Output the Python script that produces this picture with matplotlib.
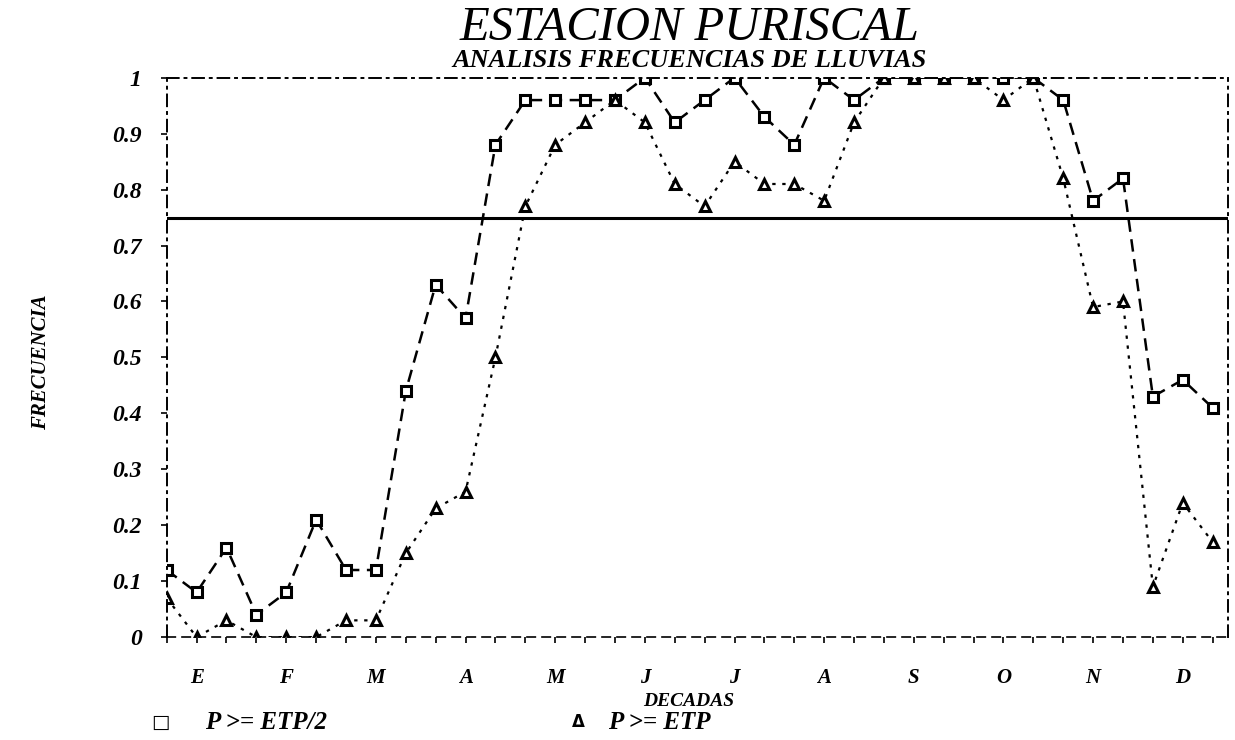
import matplotlib
matplotlib.use("Agg")
import matplotlib.pyplot as plt
import numpy as np

# frecuencia por decada (36 decadas, 3 por mes)
decadas = np.arange(36)
meses = ["E", "F", "M", "A", "M", "J", "J", "A", "S", "O", "N", "D"]

p_etp2 = [0.12, 0.08, 0.16, 0.04, 0.08, 0.21, 0.12, 0.12, 0.44, 0.63, 0.57, 0.88,
          0.96, 0.96, 0.96, 0.96, 1.00, 0.92, 0.96, 1.00, 0.93, 0.88, 1.00, 0.96,
          1.00, 1.00, 1.00, 1.00, 1.00, 1.00, 0.96, 0.78, 0.82, 0.43, 0.46, 0.41]
p_etp = [0.07, 0.00, 0.03, 0.00, 0.00, 0.00, 0.03, 0.03, 0.15, 0.23, 0.26, 0.50,
         0.77, 0.88, 0.92, 0.96, 0.92, 0.81, 0.77, 0.85, 0.81, 0.81, 0.78, 0.92,
         1.00, 1.00, 1.00, 1.00, 0.96, 1.00, 0.82, 0.59, 0.60, 0.09, 0.24, 0.17]
umbral = 0.75

serif = "Liberation Serif"
bi = dict(fontfamily=serif, fontweight="bold", fontstyle="italic")

fig = plt.figure(figsize=(12.35, 7.4), dpi=100)
ax = fig.add_axes([0.135, 0.139, 0.859, 0.756])

ax.plot(decadas, p_etp2, color="black", lw=1.8, ls=(0, (5, 3)),
        marker="s", ms=7.5, mfc="white", mec="black", mew=2.2)
ax.plot(decadas, p_etp, color="black", lw=1.6, ls=(0, (1.5, 3)),
        marker="^", ms=7.5, mfc="white", mec="black", mew=2.2)
ax.axhline(umbral, color="black", lw=2.2)

ax.set_xlim(0, 35.5)
ax.set_ylim(0, 1)

for side in ["top", "left", "right"]:
    ax.spines[side].set_linestyle((0, (6, 3, 1, 3)))
    ax.spines[side].set_linewidth(1.4)
ax.spines["bottom"].set_linestyle((0, (5, 4)))
ax.spines["bottom"].set_linewidth(1.2)

yt = np.round(np.arange(0, 1.01, 0.1), 1)
ax.set_yticks(yt)
ax.set_yticklabels(["0" if v == 0 else ("1" if v == 1 else f"{v:.1f}") for v in yt],
                   fontsize=17, **bi)
ax.set_xticks(decadas[1::3])
ax.set_xticklabels(meses, fontsize=15, **bi)
ax.set_xticks(decadas, minor=True)
ax.tick_params(axis="y", direction="out", length=4, width=1.2, pad=14)
ax.tick_params(axis="x", which="both", direction="out", length=4, width=1.2, pad=18)

fig.text(0.558, 1 - 702 / 740, "DECADAS", ha="center", va="center", fontsize=14, **bi)
fig.text(0.033, 0.51, "FRECUENCIA", ha="center", va="center", rotation=90,
         fontsize=15, **bi)

fig.text(0.558, 0.962, "ESTACION PURISCAL", ha="center", va="center",
         fontfamily=serif, fontstyle="italic", fontsize=35)
fig.text(0.558, 0.918, "ANALISIS FRECUENCIAS DE LLUVIAS", ha="center", va="center",
         fontsize=19, **bi)

# leyenda bajo el eje
fig.text(0.130, 0.024, "\u25a1", ha="center", va="center", fontsize=14,
         fontfamily="DejaVu Sans")
fig.text(0.166, 0.024, "P >= ETP/2", ha="left", va="center", fontsize=18, **bi)
fig.text(0.468, 0.024, "\u0394", ha="center", va="center", fontsize=12,
         fontfamily="DejaVu Sans", fontweight="bold")
fig.text(0.492, 0.024, "P >= ETP", ha="left", va="center", fontsize=18, **bi)

fig.savefig("out.png", dpi=100)
